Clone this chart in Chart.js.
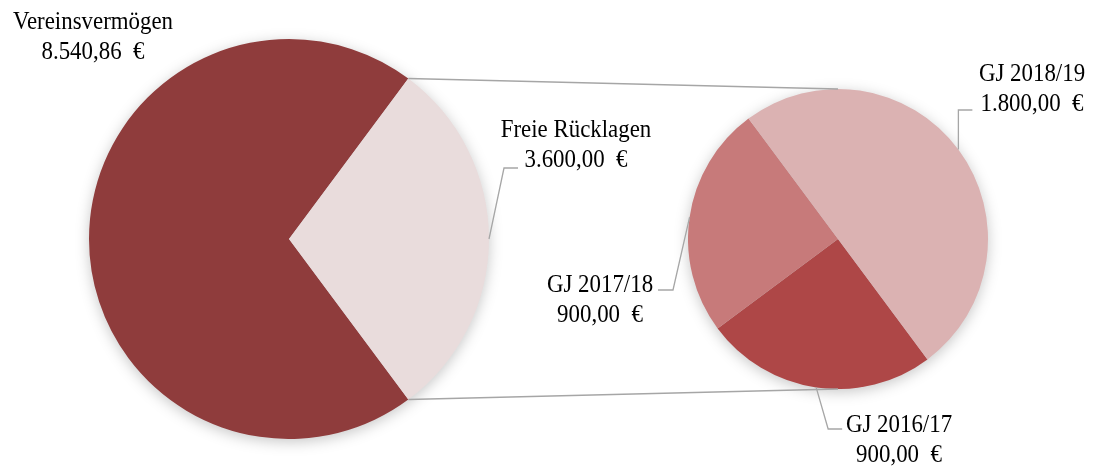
<!DOCTYPE html>
<html>
<head>
<meta charset="utf-8">
<script src="https://cdn.jsdelivr.net/npm/chart.js@4"></script>
<style>
html,body{margin:0;padding:0;background:#fff;}
#wrap{position:relative;width:1094px;height:468px;overflow:hidden;}
.pie{position:absolute;filter:drop-shadow(0 3px 7px rgba(0,0,0,0.22));}
#left{left:89px;top:39px;width:400px;height:400px;}
#right{left:688px;top:89px;width:300px;height:300px;}
#overlay{position:absolute;left:0;top:0;width:1094px;height:468px;pointer-events:none;}
</style>
</head>
<body>
<div id="wrap">
  <div id="left" class="pie"><canvas id="cLeft"></canvas></div>
  <div id="right" class="pie"><canvas id="cRight"></canvas></div>
  <canvas id="overlay" width="1094" height="468"></canvas>
</div>
<script>
// ---- data ----
const mainLabels = ['Vereinsvermögen', 'Freie Rücklagen'];
const mainValues = [8540.86, 3600.00];
const mainColors = ['#8F3C3C', '#E9DCDC'];

const subLabels = ['GJ 2016/17', 'GJ 2017/18', 'GJ 2018/19'];
const subValues = [900.00, 900.00, 1800.00];
const subColors = ['#AE4747', '#C77A7A', '#DBB2B2'];

const fmt = v => v.toLocaleString('de-DE', {minimumFractionDigits: 2, maximumFractionDigits: 2}) + '  €';

const mainTotal = mainValues.reduce((a, b) => a + b, 0);
const splitDeg = mainValues[1] / mainTotal * 360;
const rot = 90 + splitDeg / 2;

const common = {
  responsive: true,
  maintainAspectRatio: false,
  animation: false,
  events: [],
  layout: {padding: 0},
  plugins: {legend: {display: false}, tooltip: {enabled: false}}
};

const leftChart = new Chart(document.getElementById('cLeft'), {
  type: 'pie',
  data: {labels: mainLabels, datasets: [{data: mainValues, backgroundColor: mainColors, borderWidth: 0}]},
  options: Object.assign({}, common, {rotation: rot})
});

const rightChart = new Chart(document.getElementById('cRight'), {
  type: 'pie',
  data: {labels: subLabels, datasets: [{data: subValues, backgroundColor: subColors, borderWidth: 0}]},
  options: Object.assign({}, common, {rotation: rot})
});

function geom(chart, el, idx) {
  const arc = chart.getDatasetMeta(0).data[idx];
  const box = document.getElementById(el);
  return {x: arc.x + box.offsetLeft, y: arc.y + box.offsetTop, r: arc.outerRadius,
          s: arc.startAngle, e: arc.endAngle, m: (arc.startAngle + arc.endAngle) / 2};
}
function pt(g, a) { return [g.x + g.r * Math.cos(a), g.y + g.r * Math.sin(a)]; }

function drawOverlay() {
  const cv = document.getElementById('overlay');
  const ctx = cv.getContext('2d');
  ctx.clearRect(0, 0, cv.width, cv.height);
  ctx.strokeStyle = '#A6A6A6';
  ctx.lineWidth = 1.3;

  const free = geom(leftChart, 'left', 1);
  const s0 = geom(rightChart, 'right', 0);
  const s1 = geom(rightChart, 'right', 1);
  const s2 = geom(rightChart, 'right', 2);

  // connector lines
  const a = pt(free, free.s), b = pt(free, free.e);
  ctx.beginPath();
  ctx.moveTo(a[0], a[1]); ctx.lineTo(s0.x, s0.y - s0.r);
  ctx.moveTo(b[0], b[1]); ctx.lineTo(s0.x, s0.y + s0.r);
  ctx.stroke();

  function leader(p, pts) {
    ctx.beginPath();
    ctx.moveTo(p[0], p[1]);
    pts.forEach(q => ctx.lineTo(q[0], q[1]));
    ctx.stroke();
  }
  const pf = pt(free, free.m);
  leader(pf, [[pf[0] + 15, pf[1] - 71], [pf[0] + 29, pf[1] - 71]]);
  const p2 = pt(s2, s2.m);
  leader(p2, [[p2[0], 110], [p2[0] + 14, 110]]);
  const p1 = pt(s1, s1.m);
  leader(p1, [[673, 290], [658, 290]]);
  const p0 = pt(s0, s0.m);
  leader(p0, [[p0[0] + 12, 429], [p0[0] + 26, 429]]);

  // labels
  ctx.fillStyle = '#000';
  ctx.font = '26px "Liberation Serif", "Times New Roman", serif';
  ctx.textAlign = 'center';
  ctx.textBaseline = 'alphabetic';
  function txt(s, x, y) {
    ctx.save();
    ctx.translate(x, y);
    ctx.scale(0.88, 1);
    ctx.fillText(s, 0, 0);
    ctx.restore();
  }
  function label(name, val, x, y) { txt(name, x, y); txt(fmt(val), x, y + 30); }
  label(mainLabels[0], mainValues[0], 93, 29);
  label(mainLabels[1], mainValues[1], 576, 137);
  label(subLabels[2], subValues[2], 1032, 81);
  label(subLabels[1], subValues[1], 600, 292);
  label(subLabels[0], subValues[0], 899, 432);
}
drawOverlay();
</script>
</body>
</html>
